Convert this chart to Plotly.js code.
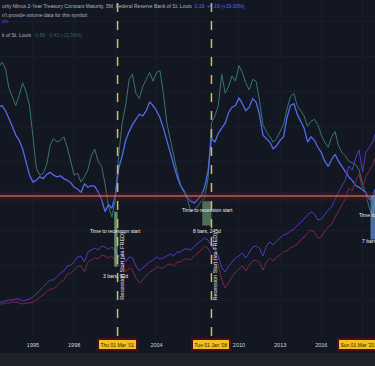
<!DOCTYPE html>
<html>
<head>
<meta charset="utf-8">
<script src="https://cdn.plot.ly/plotly-3.0.1.min.js"></script>
<style>
html,body{margin:0;padding:0;background:#131722;}
#chart{width:375px;height:366px;}
</style>
</head>
<body>
<div id="chart"></div>
<script>
// Quarterly observation dates (Jul 1992 .. Oct 2019, plus Dec 2019)
const dates = [];
for (let y = 1992; y <= 2019; y++) {
  for (const m of ['01','04','07','10']) {
    if (y === 1992 && (m === '01' || m === '04')) continue;
    dates.push(y + '-' + m + '-01');
  }
}
dates.push('2019-12-01');

// 10Y minus 2Y spread (%)
const spread10y2y = [
  2.55,2.60,2.45,2.25,2.00,1.75,1.60,1.35,1.00,0.60,
  0.40,0.45,0.55,0.50,0.62,0.68,0.60,0.55,0.58,0.50,
  0.45,0.38,0.25,0.20,0.10,0.35,0.25,0.30,0.28,0.12,
  -0.10,-0.45,-0.25,-0.35,0.05,0.80,1.15,1.60,1.85,2.05,
  2.20,2.35,2.30,2.45,2.70,2.60,2.45,2.25,1.95,1.60,
  1.20,0.85,0.55,0.30,0.15,-0.05,-0.15,-0.20,-0.10,0.00,
  0.25,0.70,1.65,1.55,1.80,1.95,2.10,2.40,2.55,2.60,
  2.82,2.65,2.45,2.55,2.80,2.70,2.35,1.75,1.65,1.55,
  1.35,1.45,1.60,1.70,2.25,2.60,2.65,2.35,2.15,1.95,
  1.55,1.70,1.60,1.40,1.25,1.00,0.85,1.05,1.20,1.00,
  0.85,0.70,0.55,0.45,0.30,0.25,0.18,0.10,-0.10,-0.05,0.19
];

// 10Y minus 3M spread (%)
const spread10y3m = [
  3.70,3.85,3.65,3.10,2.85,2.60,2.90,3.25,3.00,2.60,
  1.70,0.80,0.60,0.65,0.90,1.45,1.65,1.55,1.60,1.70,
  1.40,1.00,0.60,0.65,0.40,0.55,0.75,1.15,1.35,1.00,
  0.85,0.35,-0.30,-0.60,-0.10,1.20,2.10,2.60,3.35,3.50,
  2.95,2.80,3.15,3.35,3.55,3.30,3.55,3.60,2.95,2.10,
  1.60,1.15,0.70,0.30,0.10,-0.10,-0.45,-0.40,-0.30,-0.15,
  -0.05,0.50,2.10,2.30,2.60,3.50,2.95,3.15,3.45,3.30,
  3.75,3.55,3.25,3.05,3.35,3.30,2.75,2.05,1.85,1.70,
  1.55,1.65,1.85,2.05,2.50,2.85,2.95,2.60,2.45,2.30,
  2.00,2.15,2.20,2.05,1.75,1.55,1.40,1.70,1.85,1.45,
  1.25,1.15,1.00,0.95,0.90,0.75,0.35,0.05,-0.35,-0.55,0.00
];

// Equity index (upper, purple)
const indexA = [
  400,400,420,440,440,460,460,420,440,460,
  500,560,640,700,780,840,840,920,980,1020,
  1120,1140,1200,1300,1320,1200,1400,1440,1480,1440,
  1520,1500,1460,1500,1420,1300,1400,1200,1300,1280,
  1120,1020,1080,1140,1200,1240,1300,1260,1280,1320,
  1360,1320,1400,1400,1460,1460,1440,1520,1580,1620,
  1680,1640,1520,1440,1320,1080,1000,1120,1200,1280,
  1320,1380,1280,1400,1500,1520,1480,1320,1520,1600,
  1540,1620,1680,1740,1760,1820,1860,1920,2000,2060,
  2140,2200,2160,2040,2060,2160,2240,2300,2460,2600,
  2720,2840,3120,3040,3280,3440,3000,3400,3500,3600,3760
];

// Equity index (lower, maroon)
const indexB = [
  360,360,380,380,400,400,380,360,380,380,
  400,440,500,540,600,660,660,740,800,840,
  960,980,1040,1120,1120,1000,1200,1240,1280,1260,
  1340,1320,1280,1320,1220,1120,1200,1000,1080,1040,
  880,780,840,920,1000,1040,1100,1080,1080,1140,
  1160,1120,1200,1200,1260,1260,1240,1320,1380,1440,
  1520,1480,1340,1260,1140,840,680,800,900,1000,
  1060,1120,1020,1140,1220,1240,1200,1040,1200,1280,
  1220,1300,1340,1400,1420,1480,1520,1560,1640,1700,
  1780,1840,1800,1680,1700,1820,1900,1960,2100,2220,
  2340,2460,2680,2620,2820,2960,2640,2920,3020,3140,3280
];

// Visible year labels (2001, 2007, 2019 are hidden behind the date boxes)
const tickYears = ['1995','1998','2004','2010','2013','2016'];
const gridYears = ['1995','1998','2001','2004','2007','2010','2013','2016','2019'];
const recessionDates = ['2001-03-01','2008-01-01'];
const recessionLabels = ["Thu 01 Mar '01","Tue 01 Jan '08"];
const lastRecessionLabel = "Sun 01 Mar '20";

const FONT = 'Liberation Sans, Arial, sans-serif';
const txt = '#d1d4dc';

const traces = [
  {x: dates, y: indexB, yaxis: 'y2', type: 'scatter', mode: 'lines',
   line: {color: '#7a2650', width: 1}, hoverinfo: 'skip'},
  {x: dates, y: indexA, yaxis: 'y2', type: 'scatter', mode: 'lines',
   line: {color: '#5836c0', width: 1}, hoverinfo: 'skip'},
  {x: dates, y: spread10y3m, type: 'scatter', mode: 'lines',
   line: {color: '#37756f', width: 1}, hoverinfo: 'skip'},
  {x: dates, y: spread10y2y, type: 'scatter', mode: 'lines',
   line: {color: '#5469f0', width: 1.3}, hoverinfo: 'skip'}
];

const shapes = [
  // bottom toolbar strip
  {type:'rect', xref:'paper', yref:'paper', x0:0, x1:1, y0:-0.0506, y1:-0.0893,
   fillcolor:'#1e222b', line:{width:0}, layer:'below'},
  // zero band + line
  {type:'rect', xref:'paper', yref:'y', x0:0, x1:1, y0:-0.14, y1:0.12,
   fillcolor:'rgba(95,20,40,0.35)', line:{width:0}},
  {type:'line', xref:'paper', yref:'y', x0:0, x1:1, y0:0, y1:0,
   line:{color:'#e0915c', width:1}},
  // measurement rectangles
  {type:'rect', xref:'x', yref:'y', x0:'2000-12-01', x1:'2001-03-01', y0:-0.45, y1:-2.03,
   fillcolor:'rgba(150,215,155,0.6)', line:{width:0}},
  {type:'rect', xref:'x', yref:'y', x0:'2007-05-01', x1:'2008-01-01', y0:-0.15, y1:-0.85,
   fillcolor:'rgba(150,215,155,0.45)', line:{width:0}},
  {type:'rect', xref:'x', yref:'y', x0:'2019-08-01', x1:'2020-03-01', y0:0, y1:-1.25,
   fillcolor:'rgba(110,170,240,0.6)', line:{width:0}}
];
gridYears.forEach(y => shapes.push({
  type:'line', xref:'x', yref:'paper', x0:y + '-01-01', x1:y + '-01-01', y0:0, y1:1,
  line:{color:'#1b1f2c', width:1}, layer:'below'
}));
recessionDates.forEach(d => shapes.push({
  type:'line', xref:'x', yref:'paper', x0:d, x1:d, y0:0, y1:1,
  line:{color:'#d3bf4a', width:1.5, dash:'dash'}
}));

const annotations = [
  {xref:'paper', yref:'paper', x:0, y:0.982, xanchor:'left', yanchor:'middle', showarrow:false,
   text:"urity Minus 2-Year Treasury Constant Maturity, 5M, Federal Reserve Bank of St. Louis  <span style='color:#5b6ee8'>0.19  +0.19 (+19.00%)</span>",
   font:{family:FONT, size:5, color:'#b2b5be'}},
  {xref:'paper', yref:'paper', x:0, y:0.955, xanchor:'left', yanchor:'middle', showarrow:false,
   text:"n't provide volume data for this symbol.",
   font:{family:FONT, size:5, color:'#b2b5be'}},
  {xref:'paper', yref:'paper', x:0, y:0.9375, xanchor:'left', yanchor:'middle', showarrow:false,
   text:"ols",
   font:{family:FONT, size:5, color:'#6a3cc0'}},
  {xref:'paper', yref:'paper', x:0, y:0.896, xanchor:'left', yanchor:'middle', showarrow:false,
   text:"k of St. Louis  <span style='color:#2c6560'>-0.88  -0.41 (-11.56%)</span>",
   font:{family:FONT, size:5, color:'#b2b5be'}},
  // measurement labels
  {x:'2001-01-15', y:-1.0, showarrow:false, text:'Time to recession start',
   font:{family:FONT, size:5, color:'#eeeeee'}},
  {x:'2001-01-15', y:-2.3, showarrow:false, text:'3 bars, 92d',
   font:{family:FONT, size:5, color:'#eeeeee'}},
  {x:'2007-09-05', y:-0.40, showarrow:false, text:'Time to recession start',
   font:{family:FONT, size:5, color:'#eeeeee'}},
  {x:'2007-09-05', y:-1.0, showarrow:false, text:'8 bars, 245d',
   font:{family:FONT, size:5, color:'#eeeeee'}},
  {xref:'paper', yref:'y', x:0.952, y:-0.55, xanchor:'left', showarrow:false, text:'Time to',
   font:{family:FONT, size:5, color:'#eeeeee'}},
  {xref:'paper', yref:'y', x:0.96, y:-1.29, xanchor:'left', showarrow:false, text:'7 bars',
   font:{family:FONT, size:5, color:'#eeeeee'}},
  // date boxes
  {xref:'paper', yref:'paper', x:1.009, y:-0.024, yanchor:'middle', showarrow:false, text:lastRecessionLabel,
   bgcolor:'#f0c21f', bordercolor:'#4e0c1b', borderwidth:2, borderpad:1.5,
   font:{family:FONT, size:5, color:'#2a1f00'}}
];
recessionDates.forEach((d, i) => {
  annotations.push({x:d, xref:'x', yref:'paper', y:0.101, xshift:4, textangle:-90,
    showarrow:false, text:'Recession Start (via FRED)',
    font:{family:FONT, size:5.5, color:'#e8e8e8'}});
  annotations.push({x:d, xref:'x', yref:'paper', y:-0.024, yanchor:'middle', showarrow:false,
    text:recessionLabels[i], bgcolor:'#f0c21f', bordercolor:'#4e0c1b', borderwidth:2, borderpad:1.5,
    font:{family:FONT, size:5, color:'#2a1f00'}});
});

const layout = {
  width: 375, height: 366,
  margin: {l:0, r:0, t:0, b:30},
  paper_bgcolor: '#131722', plot_bgcolor: '#131722',
  showlegend: false,
  xaxis: {
    type:'date', range:['1992-08-07','2019-11-29'],
    tickvals: tickYears.map(y => y + '-01-01'), ticktext: tickYears,
    tickfont:{family:FONT, size:5.5, color:txt},
    ticklabelstandoff: 4,
    showgrid:false, zeroline:false, showline:false, ticks:''
  },
  yaxis: {
    range:[-4.023, 5.632], showticklabels:false, dtick:1,
    showgrid:true, gridcolor:'#191d29', zeroline:false, ticks:''
  },
  yaxis2: {
    range:[-280, 6440], overlaying:'y', side:'right', showticklabels:false,
    showgrid:false, zeroline:false
  },
  shapes: shapes,
  annotations: annotations
};

Plotly.newPlot('chart', traces, layout, {staticPlot:true, displayModeBar:false});
</script>
</body>
</html>
